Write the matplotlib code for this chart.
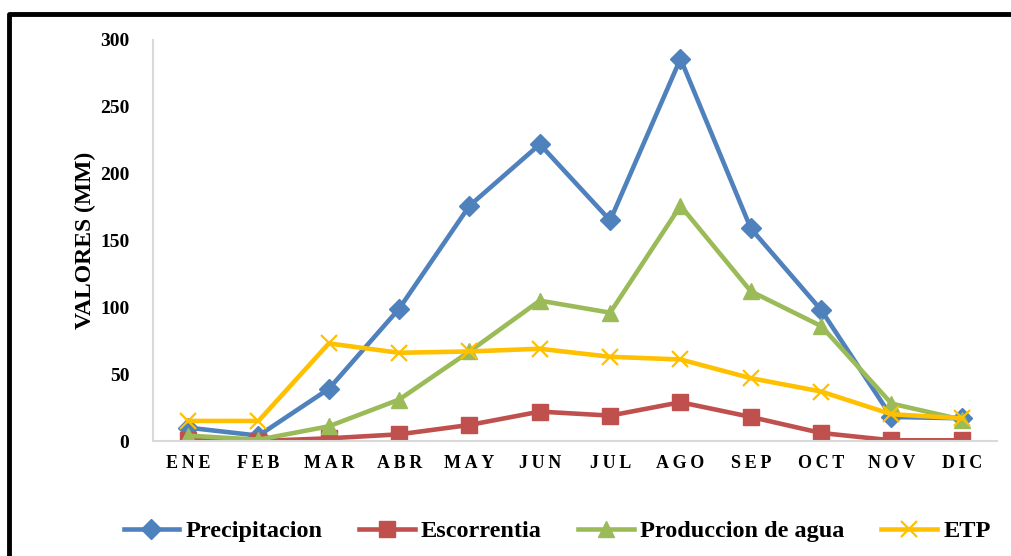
import numpy as np
import matplotlib
matplotlib.use("Agg")
import matplotlib.pyplot as plt
from matplotlib.lines import Line2D

plt.rcParams['font.family'] = ['Liberation Serif', 'DejaVu Serif']
plt.rcParams['font.weight'] = 'bold'

meses = ['ENE', 'FEB', 'MAR', 'ABR', 'MAY', 'JUN', 'JUL', 'AGO', 'SEP', 'OCT', 'NOV', 'DIC']
precipitacion = [10, 4, 39, 99, 176, 222, 165, 286, 159, 98, 18, 17]
escorrentia = [1, 0, 2, 5, 12, 22, 19, 29, 18, 6, 0.5, 0.5]
produccion = [4, 1, 11, 31, 67, 105, 96, 176, 112, 86, 28, 16]
etp = [15, 15, 73, 66, 67, 69, 63, 61, 47, 37, 20, 17]

fig = plt.figure(figsize=(10.12, 5.56), dpi=100)
ax = fig.add_axes([153 / 1012, 1 - 441 / 556, 844 / 1012, 401 / 556])

x = np.arange(len(meses))
lw = 3.3
ax.plot(x, precipitacion, color='#4F81BD', lw=lw, marker='D', ms=10, label='Precipitacion')
ax.plot(x, escorrentia, color='#C0504D', lw=lw, marker='s', ms=12, label='Escorrentia')
ax.plot(x, produccion, color='#9BBB59', lw=lw, marker='^', ms=12, label='Produccion de agua')
ax.plot(x, etp, color='#FFC000', lw=lw, marker='x', ms=12, mew=1.6, label='ETP')

ax.set_xlim(-0.5, 11.5)
ax.set_ylim(0, 300)
ax.set_yticks(range(0, 301, 50))
ax.set_xticks(x)
ax.set_xticklabels(['\u2009'.join(m) for m in meses], fontsize=13, fontweight='bold')
ax.tick_params(axis='y', length=0, pad=17, labelsize=14)
ax.tick_params(axis='x', length=0, pad=10)
for lab in ax.get_yticklabels():
    lab.set_fontweight('bold')

for s in ['top', 'right']:
    ax.spines[s].set_visible(False)
ax.spines['left'].set_color('#D9D9D9')
ax.spines['bottom'].set_color('#D9D9D9')
ax.spines['left'].set_linewidth(1.5)
ax.spines['bottom'].set_linewidth(1.5)

ax.set_ylabel('VALORES (MM)', fontsize=17, fontweight='bold', labelpad=3)

fig.legend(loc='center', bbox_to_anchor=(557 / 1012, 1 - 531 / 556), ncol=4, frameon=False,
           prop={'size': 17.5, 'weight': 'bold'}, handlelength=2.3, columnspacing=1.5,
           handletextpad=0.25)

# marco del grafico (solo se ve arriba y a la izquierda)
fig.add_artist(Line2D([9 / 1012, 9 / 1012, 1.02], [-0.02, 1 - 14 / 556, 1 - 14 / 556],
                      transform=fig.transFigure, color='black', lw=3.5, clip_on=False))

fig.savefig('out.png', dpi=100)
